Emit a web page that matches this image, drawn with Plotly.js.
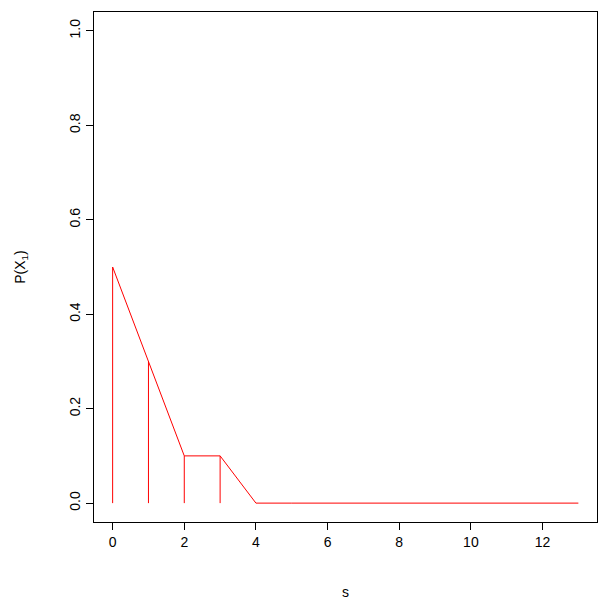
<!DOCTYPE html>
<html>
<head>
<script src="https://cdn.plot.ly/plotly-3.0.1.min.js"></script>
<style>body{margin:0;background:#fff}</style>
</head>
<body>
<div id="graphDiv" style="width:598px;height:600px"></div>
<script>
let sValues = [0, 1, 2, 3, 4, 5, 6, 7, 8, 9, 10, 11, 12, 13];
let probValues = [0.5, 0.3, 0.1, 0.1, 0, 0, 0, 0, 0, 0, 0, 0, 0, 0];
let spikeS = [0, 1, 2, 3];
let spikeProb = [0.5, 0.3, 0.1, 0.1];

let spikeX = [];
let spikeY = [];
spikeS.forEach((s, i) => {
  spikeX.push(s, s, null);
  spikeY.push(0, spikeProb[i], null);
});

var data = [
  {
    type: "scatter",
    mode: "lines",
    x: sValues,
    y: probValues,
    line: { color: "red", width: 1 },
  },
  {
    type: "scatter",
    mode: "lines",
    x: spikeX,
    y: spikeY,
    line: { color: "red", width: 1 },
  },
];

var axisFont = { family: "Liberation Sans, Arial, sans-serif", size: 14, color: "#000" };

var layout = {
  width: 598,
  height: 600,
  showlegend: false,
  plot_bgcolor: "#fff",
  paper_bgcolor: "#fff",
  margin: { l: 94, r: 1, t: 12, b: 78 },
  xaxis: {
    range: [-0.52, 13.52],
    tickvals: [0, 2, 4, 6, 8, 10, 12],
    ticks: "outside",
    ticklen: 7,
    tickcolor: "#000",
    showgrid: false,
    zeroline: false,
    showline: true,
    mirror: true,
    linecolor: "#000",
    linewidth: 1,
    tickfont: axisFont,
    title: { text: "s", font: axisFont, standoff: 38 },
  },
  yaxis: {
    range: [-0.04, 1.04],
    tickvals: [0, 0.2, 0.4, 0.6, 0.8, 1.0],
    ticktext: ["0.0", "0.2", "0.4", "0.6", "0.8", "1.0"],
    tickangle: -90,
    ticks: "outside",
    ticklen: 7,
    tickcolor: "#000",
    showgrid: false,
    zeroline: false,
    showline: true,
    mirror: true,
    linecolor: "#000",
    linewidth: 1,
    tickfont: axisFont,
    title: { text: "P(X<sub>1</sub>)", font: axisFont, standoff: 38 },
  },
};

Plotly.newPlot("graphDiv", data, layout, { displayModeBar: false });
</script>
</body>
</html>
